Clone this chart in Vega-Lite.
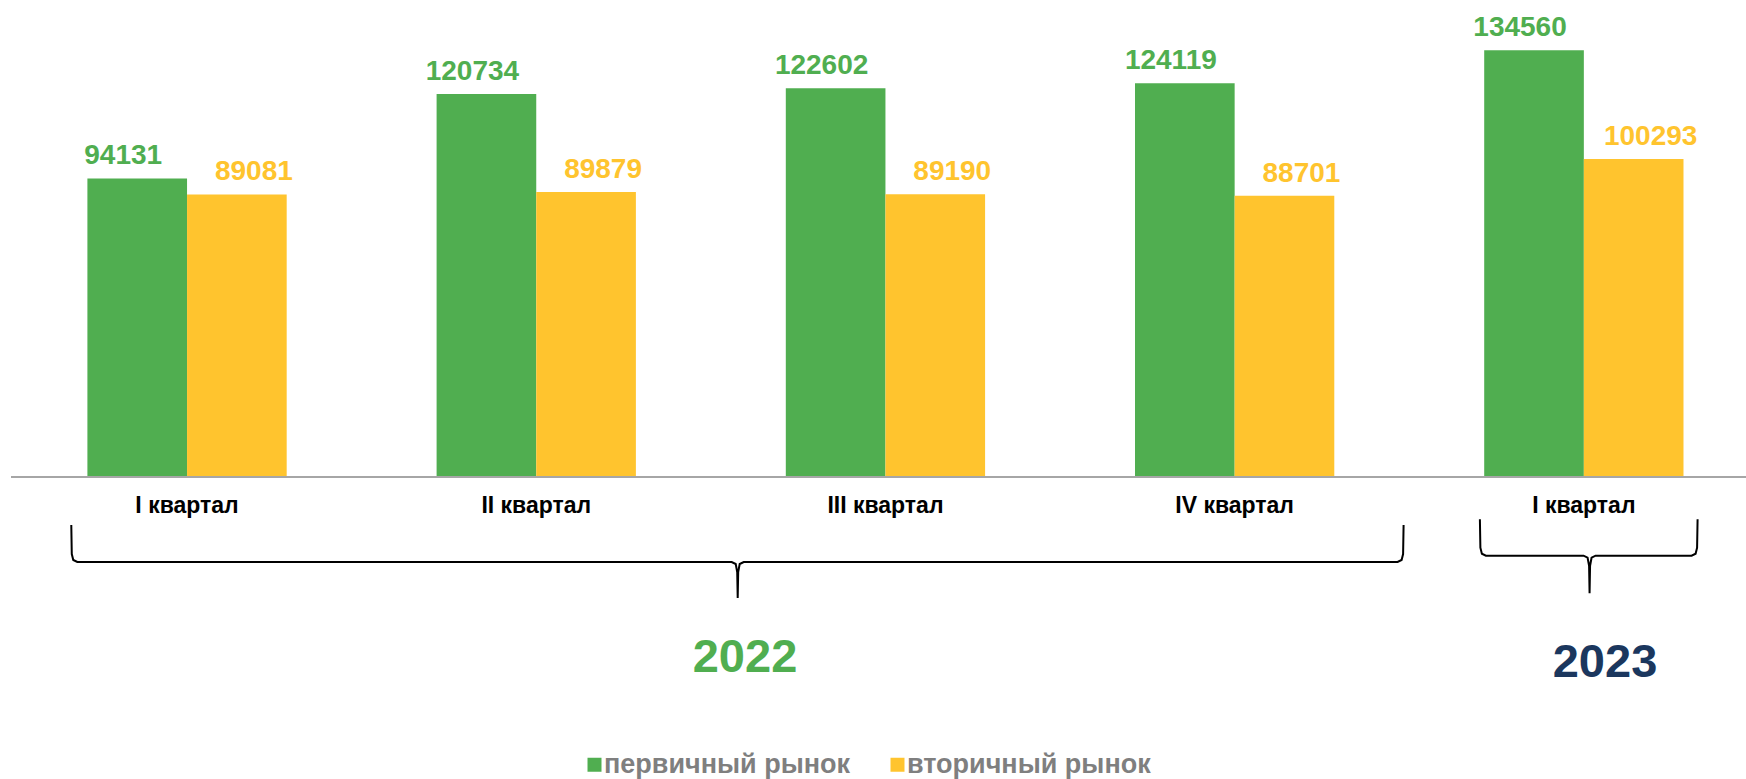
{
  "$schema": "https://vega.github.io/schema/vega-lite/v6.json",
  "width": 1735,
  "height": 779,
  "padding": {"left": 11, "top": 0, "right": 0, "bottom": 0},
  "autosize": {"type": "none"},
  "background": "white",
  "config": {"view": {"stroke": null}, "font": "Liberation Sans"},
  "datasets": {
    "main": [
      {"period": "2022 I", "label": "I квартал", "series": "первичный рынок", "value": 94131},
      {"period": "2022 I", "label": "I квартал", "series": "вторичный рынок", "value": 89081},
      {"period": "2022 II", "label": "II квартал", "series": "первичный рынок", "value": 120734},
      {"period": "2022 II", "label": "II квартал", "series": "вторичный рынок", "value": 89879},
      {"period": "2022 III", "label": "III квартал", "series": "первичный рынок", "value": 122602},
      {"period": "2022 III", "label": "III квартал", "series": "вторичный рынок", "value": 89190},
      {"period": "2022 IV", "label": "IV квартал", "series": "первичный рынок", "value": 124119},
      {"period": "2022 IV", "label": "IV квартал", "series": "вторичный рынок", "value": 88701},
      {"period": "2023 I", "label": "I квартал", "series": "первичный рынок", "value": 134560},
      {"period": "2023 I", "label": "I квартал", "series": "вторичный рынок", "value": 100293}
    ],
    "braces": [
      {"brace": "2022", "i": 1, "q": -0.3315, "level": -15134},
      {"brace": "2022", "i": 2, "q": -0.3301, "level": -24278},
      {"brace": "2022", "i": 3, "q": -0.3258, "level": -26170},
      {"brace": "2022", "i": 4, "q": -0.3143, "level": -26800},
      {"brace": "2022", "i": 5, "q": 1.5597, "level": -26800},
      {"brace": "2022", "i": 6, "q": 1.5712, "level": -27431},
      {"brace": "2022", "i": 7, "q": 1.5755, "level": -29954},
      {"brace": "2022", "i": 8, "q": 1.5769, "level": -38151},
      {"brace": "2022", "i": 9, "q": 1.5783, "level": -29954},
      {"brace": "2022", "i": 10, "q": 1.5826, "level": -27431},
      {"brace": "2022", "i": 11, "q": 1.5941, "level": -26800},
      {"brace": "2022", "i": 12, "q": 3.4666, "level": -26800},
      {"brace": "2022", "i": 13, "q": 3.4781, "level": -26170},
      {"brace": "2022", "i": 14, "q": 3.4824, "level": -24278},
      {"brace": "2022", "i": 15, "q": 3.4838, "level": -15134},
      {"brace": "2023", "i": 1, "q": 3.7023, "level": -13337},
      {"brace": "2023", "i": 2, "q": 3.7037, "level": -22292},
      {"brace": "2023", "i": 3, "q": 3.7080, "level": -24184},
      {"brace": "2023", "i": 4, "q": 3.7195, "level": -24814},
      {"brace": "2023", "i": 5, "q": 3.9992, "level": -24814},
      {"brace": "2023", "i": 6, "q": 4.0107, "level": -25445},
      {"brace": "2023", "i": 7, "q": 4.0150, "level": -27967},
      {"brace": "2023", "i": 8, "q": 4.0164, "level": -36669},
      {"brace": "2023", "i": 9, "q": 4.0178, "level": -27967},
      {"brace": "2023", "i": 10, "q": 4.0221, "level": -25445},
      {"brace": "2023", "i": 11, "q": 4.0336, "level": -24814},
      {"brace": "2023", "i": 12, "q": 4.3085, "level": -24814},
      {"brace": "2023", "i": 13, "q": 4.3200, "level": -24184},
      {"brace": "2023", "i": 14, "q": 4.3243, "level": -22292},
      {"brace": "2023", "i": 15, "q": 4.3257, "level": -13337}
    ],
    "years": [
      {"year": "2022", "q": 1.5978},
      {"year": "2023", "q": 4.0606}
    ]
  },
  "layer": [
    {
      "data": {"name": "main"},
      "layer": [
        {
          "mark": {"type": "bar"},
          "encoding": {
            "x": {"field": "period", "type": "nominal", "sort": null, "axis": null,
                  "scale": {"type": "band", "paddingInner": 0.4293, "paddingOuter": 0.1989, "align": 0.55}},
            "xOffset": {"field": "series", "type": "nominal", "sort": ["первичный рынок", "вторичный рынок"],
                        "scale": {"paddingInner": 0, "paddingOuter": 0}},
            "y": {"field": "value", "type": "quantitative", "stack": null, "axis": null,
                  "scale": {"domain": [-95220, 150400], "nice": false, "zero": false}},
            "y2": {"datum": 0},
            "color": {"field": "series", "type": "nominal", "sort": ["первичный рынок", "вторичный рынок"],
                      "scale": {"domain": ["первичный рынок", "вторичный рынок"], "range": ["#50AE50", "#FFC42E"]},
                      "legend": {"orient": "none", "legendX": 570, "legendY": 751, "direction": "horizontal",
                                 "title": null, "symbolType": "square", "symbolSize": 196, "symbolStrokeWidth": 0,
                                 "labelFont": "Liberation Sans", "labelFontWeight": "bold", "labelFontSize": 27,
                                 "labelColor": "#7F7F7F", "labelOffset": -4, "labelLimit": 1000,
                                 "columnPadding": 33, "padding": 0}}
          }
        },
        {
          "transform": [{"filter": "datum.series === 'первичный рынок'"}],
          "mark": {"type": "text", "font": "Liberation Sans", "fontWeight": "bold", "fontSize": 28,
                   "color": "#50AE50", "dx": -14, "dy": -14, "baseline": "alphabetic", "align": "center"},
          "encoding": {
            "x": {"field": "period", "type": "nominal", "sort": null},
            "xOffset": {"field": "series", "type": "nominal", "sort": ["первичный рынок", "вторичный рынок"]},
            "y": {"field": "value", "type": "quantitative"},
            "text": {"field": "value", "type": "quantitative", "format": "d"}
          }
        },
        {
          "transform": [{"filter": "datum.series === 'вторичный рынок'"}],
          "mark": {"type": "text", "font": "Liberation Sans", "fontWeight": "bold", "fontSize": 28,
                   "color": "#FFC42E", "dx": 17, "dy": -14, "baseline": "alphabetic", "align": "center"},
          "encoding": {
            "x": {"field": "period", "type": "nominal", "sort": null},
            "xOffset": {"field": "series", "type": "nominal", "sort": ["первичный рынок", "вторичный рынок"]},
            "y": {"field": "value", "type": "quantitative"},
            "text": {"field": "value", "type": "quantitative", "format": "d"}
          }
        },
        {
          "transform": [{"filter": "datum.series === 'первичный рынок'"}],
          "mark": {"type": "text", "font": "Liberation Sans", "fontWeight": "bold", "fontSize": 23,
                   "color": "#000000", "baseline": "alphabetic", "align": "center"},
          "encoding": {
            "x": {"field": "period", "type": "nominal", "sort": null},
            "y": {"datum": -11351},
            "text": {"field": "label", "type": "nominal"}
          }
        },
        {
          "data": {"values": [{}]},
          "mark": {"type": "rule", "color": "#A6A6A6", "strokeWidth": 2},
          "encoding": {"y": {"datum": 0}}
        }
      ]
    },
    {
      "layer": [
        {
          "data": {"name": "braces"},
          "mark": {"type": "line", "color": "#000000", "strokeWidth": 2, "interpolate": "linear"},
          "encoding": {
            "x": {"field": "q", "type": "quantitative", "axis": null,
                  "scale": {"domain": [-0.50415, 4.46435], "nice": false, "zero": false}},
            "y": {"field": "level", "type": "quantitative", "axis": null,
                  "scale": {"domain": [-95220, 150400], "nice": false, "zero": false}},
            "detail": {"field": "brace", "type": "nominal"},
            "order": {"field": "i", "type": "quantitative"}
          }
        },
        {
          "data": {"name": "years"},
          "transform": [{"filter": "datum.year === '2022'"}],
          "mark": {"type": "text", "font": "Liberation Sans", "fontWeight": "bold", "fontSize": 47,
                   "color": "#50AE50", "baseline": "alphabetic", "align": "center"},
          "encoding": {
            "x": {"field": "q", "type": "quantitative"},
            "y": {"datum": -61484},
            "text": {"field": "year", "type": "nominal"}
          }
        },
        {
          "data": {"name": "years"},
          "transform": [{"filter": "datum.year === '2023'"}],
          "mark": {"type": "text", "font": "Liberation Sans", "fontWeight": "bold", "fontSize": 47,
                   "color": "#1B375E", "baseline": "alphabetic", "align": "center"},
          "encoding": {
            "x": {"field": "q", "type": "quantitative"},
            "y": {"datum": -63060},
            "text": {"field": "year", "type": "nominal"}
          }
        }
      ]
    }
  ],
  "resolve": {"scale": {"x": "independent"}}
}
